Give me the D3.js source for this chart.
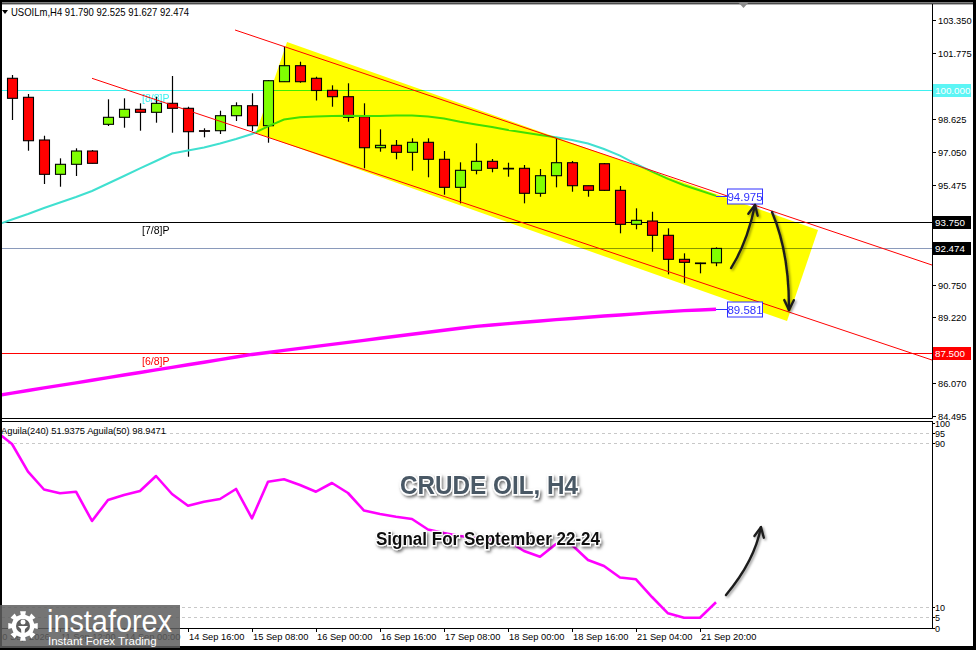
<!DOCTYPE html>
<html><head><meta charset="utf-8">
<script src="https://cdn.jsdelivr.net/npm/d3@7"></script>
<style>
body{margin:0;background:#fff}
svg{display:block}
text{font-family:"Liberation Sans",Arial,sans-serif}
</style>
</head><body>
<svg id="c" width="976" height="650"></svg>
<script>
// ---------------- DATA ----------------
const symbol = "USOILm,H4";
const headerOHLC = ["91.790", "92.525", "91.627", "92.474"];

const opens  = [100.574, 99.669, 97.636, 96.002, 96.479, 97.112, 98.383, 98.717, 99.098, 98.955, 99.383, 99.145, 98.079, 98.079, 98.793, 99.269, 98.317, 100.412, 101.174, 100.574, 100.002, 99.698, 98.745, 97.269, 97.383, 97.050, 97.526, 96.717, 95.383, 96.193, 96.621, 96.288, 96.288, 95.098, 95.936, 96.555, 95.460, 96.507, 95.240, 93.621, 93.779, 93.098, 91.955, 91.764, 91.790];
const highs  = [100.731, 99.826, 97.840, 96.764, 97.240, 97.160, 99.574, 99.621, 99.383, 99.698, 100.683, 99.221, 98.193, 99.031, 99.431, 99.860, 100.493, 102.079, 101.364, 100.650, 100.240, 100.336, 99.383, 98.145, 97.636, 97.717, 97.717, 97.112, 96.574, 97.479, 96.731, 96.555, 96.445, 96.255, 97.764, 96.636, 95.460, 96.540, 95.445, 94.383, 94.221, 93.431, 92.240, 91.793, 92.525];
const lows   = [98.588, 97.126, 95.540, 95.412, 95.921, 96.526, 98.302, 98.221, 98.079, 98.460, 97.983, 96.840, 97.764, 97.921, 98.540, 98.064, 97.507, 100.398, 100.364, 99.517, 99.221, 98.507, 96.288, 97.079, 96.717, 96.174, 95.860, 95.031, 94.621, 96.002, 96.098, 95.888, 94.621, 94.936, 95.383, 95.174, 94.936, 95.207, 93.193, 93.383, 92.317, 91.240, 90.840, 91.288, 91.627];
const closes = [99.621, 97.602, 96.002, 96.479, 97.112, 96.526, 98.717, 99.098, 98.955, 99.383, 99.145, 98.031, 98.070, 98.793, 99.269, 98.317, 100.460, 101.174, 100.412, 99.993, 99.698, 98.717, 97.269, 97.383, 97.050, 97.526, 96.717, 95.383, 96.193, 96.621, 96.288, 96.280, 95.098, 95.936, 96.555, 95.460, 95.240, 95.240, 93.621, 93.812, 93.098, 91.955, 91.812, 91.780, 92.474];

// moving averages, first value belongs to bar index -1
const maFast = [93.588, 93.850, 94.112, 94.398, 94.660, 94.921, 95.207, 95.564, 95.921, 96.288, 96.636, 96.993, 97.136, 97.279, 97.469, 97.683, 97.921, 98.288, 98.612, 98.717, 98.755, 98.779, 98.788, 98.779, 98.779, 98.802, 98.802, 98.755, 98.660, 98.507, 98.374, 98.255, 98.112, 97.993, 97.874, 97.764, 97.636, 97.469, 97.207, 96.893, 96.493, 96.131, 95.788, 95.483, 95.231, 94.975];
const maSlow = [85.464, 85.583, 85.707, 85.831, 85.955, 86.074, 86.198, 86.321, 86.445, 86.564, 86.688, 86.812, 86.936, 87.055, 87.179, 87.302, 87.426, 87.521, 87.621, 87.717, 87.812, 87.907, 88.002, 88.098, 88.198, 88.293, 88.388, 88.483, 88.579, 88.674, 88.760, 88.826, 88.893, 88.960, 89.021, 89.083, 89.140, 89.198, 89.255, 89.307, 89.360, 89.417, 89.464, 89.512, 89.545, 89.581];
const aguila = [95.84, 89.73, 76.19, 67.48, 65.62, 66.41, 52.08, 62.35, 64.79, 66.75, 74.08, 65.28, 59.56, 61.52, 62.84, 67.73, 53.40, 71.30, 72.47, 69.68, 66.41, 70.66, 65.77, 57.21, 55.50, 54.18, 53.06, 47.92, 46.21, 44.74, 43.77, 42.79, 42.30, 37.41, 34.62, 40.83, 40.34, 33.01, 30.07, 24.45, 23.57, 14.91, 6.94, 4.79, 4.79, 12.32];

const priceTicks = [103.350, 101.775, 100.200, 98.625, 97.050, 95.475, 93.900, 92.325, 90.750, 89.220, 87.645, 86.070, 84.495];
const indTicks = [100, 95, 90, 10, 5, 0];
const indDashed = [95, 90, 10, 5];
const timeTickIdx = [-1, 3, 7, 11, 15, 19, 23, 27, 31, 35, 39, 43];
const timeTickLabels = ["10 Sep 2026", "11 Sep 12:00", "14 Sep 00:00", "14 Sep 16:00", "15 Sep 08:00", "16 Sep 00:00", "16 Sep 16:00", "17 Sep 08:00", "18 Sep 00:00", "18 Sep 16:00", "21 Sep 04:00", "21 Sep 20:00"];

const levelValues = [100.000, 93.750, 92.474, 87.500];
const levelNames  = ["[8/8]P", "[7/8]P", "", "[6/8]P"];
const levelColors = ["#3ef0f0", "#000000", "#8a9abb", "#ff0000"];
const levelBoxColors = ["#5cf5f5", "#000000", "#000000", "#ff0000"];

// channel lines: [barIndex, price] endpoints
const channelUpper = [[13.94, 102.874], [57.5, 91.683]];
const channelLower = [[5.0, 100.574], [57.5, 87.160]];
const channelBox = [[17.19, 102.302], [50.375, 93.35], [48.44, 89.017], [15.25, 97.969]];

// arrows: start, control, end  [barIndex, value]
const arrowsMain = [
  [[44.94, 91.54], [45.94, 92.731], [46.44, 94.54]],
  [[47.50, 94.207], [48.59, 92.255], [48.56, 89.54]]
];
const arrowInd = [[44.625, 15.9], [46.41, 32.5], [46.81, 49.1]];

// ---------------- DRAW ----------------
const W = 976, H = 650;
const svg = d3.select("#c");
const defs = svg.append("defs");
const fsh = defs.append("filter").attr("id", "sh").attr("x", "-20%").attr("y", "-40%").attr("width", "140%").attr("height", "180%");
fsh.append("feDropShadow").attr("dx", 1.5).attr("dy", 2).attr("stdDeviation", 1.6).attr("flood-color", "#000").attr("flood-opacity", 0.55);
const fsa = defs.append("filter").attr("id", "sha").attr("x", "-50%").attr("y", "-50%").attr("width", "200%").attr("height", "200%");
fsa.append("feDropShadow").attr("dx", 1.5).attr("dy", 1.5).attr("stdDeviation", 1.2).attr("flood-color", "#000").attr("flood-opacity", 0.4);
defs.append("clipPath").attr("id", "cm").append("rect").attr("x", 2).attr("y", 4).attr("width", 930).attr("height", 414);
defs.append("clipPath").attr("id", "ci").append("rect").attr("x", 2).attr("y", 421).attr("width", 930).attr("height", 207);

svg.append("rect").attr("width", W).attr("height", H).attr("fill", "#fff");

const x = d3.scaleLinear().domain([0, 57.5]).range([12, 932]);
const y = d3.scaleLinear().domain([84.495, 103.35]).range([416, 20]);
const yi = d3.scaleLinear().domain([0, 100]).range([627.5, 423]);

// ---- main panel ----
const gm = svg.append("g").attr("clip-path", "url(#cm)");
const gBase = gm.append("g");

// horizontal levels
levelValues.forEach((v, k) => {
  gBase.append("line").attr("x1", 2).attr("x2", 932)
    .attr("y1", Math.round(y(v)) + 0.5).attr("y2", Math.round(y(v)) + 0.5)
    .attr("stroke", levelColors[k]).attr("stroke-width", 1);
  if (levelNames[k]) {
    gBase.append("text").attr("x", 142).attr("y", Math.round(y(v)) + 12)
      .attr("font-size", 10.5).attr("fill", levelColors[k]).text(levelNames[k]);
  }
});

// candles
const candles = opens.map((o, i) => ({i, o, h: highs[i], l: lows[i], c: closes[i]}));
const cg = gBase.append("g");
cg.selectAll("line.w").data(candles).join("line")
  .attr("x1", d => Math.round(x(d.i)) + 0.5).attr("x2", d => Math.round(x(d.i)) + 0.5)
  .attr("y1", d => y(d.h)).attr("y2", d => y(d.l))
  .attr("stroke", "#000").attr("stroke-width", 1.2);
cg.selectAll("rect.b").data(candles).join("rect")
  .attr("x", d => Math.round(x(d.i)) - 4.5).attr("width", 10)
  .attr("y", d => y(Math.max(d.o, d.c)))
  .attr("height", d => Math.max(0.6, Math.abs(y(d.o) - y(d.c))))
  .attr("fill", d => d.c >= d.o ? "#80ff00" : "#ff0000")
  .attr("stroke", "#000").attr("stroke-width", 1.1);

// moving averages
const lineGen = d3.line().x((d, k) => x(k - 1)).y(d => y(d));
gBase.append("path").attr("d", lineGen(maSlow)).attr("fill", "none").attr("stroke", "#ff00ff").attr("stroke-width", 3.4);
gBase.append("path").attr("d", lineGen(maFast)).attr("fill", "none").attr("stroke", "#40e0d0").attr("stroke-width", 2);

// channel lines
[channelUpper, channelLower].forEach(seg => {
  gBase.append("line")
    .attr("x1", x(seg[0][0])).attr("y1", y(seg[0][1]))
    .attr("x2", x(seg[1][0])).attr("y2", y(seg[1][1]))
    .attr("stroke", "#ff0000").attr("stroke-width", 1);
});

// yellow channel box (multiply blend)
gm.append("polygon")
  .attr("points", channelBox.map(p => x(p[0]) + "," + y(p[1])).join(" "))
  .attr("fill", "#ffff00").style("mix-blend-mode", "multiply");

// value labels of MAs
function valueBox(v, color) {
  const xe = x(44), yv = Math.round(y(v)) + 0.5;
  gm.append("line").attr("x1", xe).attr("x2", xe + 11).attr("y1", yv).attr("y2", yv).attr("stroke", color).attr("stroke-width", 1);
  gm.append("rect").attr("x", xe + 11.5).attr("y", yv - 7.5).attr("width", 35).attr("height", 15)
    .attr("fill", "#fff").attr("stroke", color).attr("stroke-width", 1);
  gm.append("text").attr("x", xe + 29).attr("y", yv + 4.5).attr("text-anchor", "middle")
    .attr("font-size", 11.5).attr("fill", color).text(v.toFixed(3));
}
valueBox(maFast[maFast.length - 1], "#3030ff");
valueBox(maSlow[maSlow.length - 1], "#3030ff");

// arrows
function drawArrow(g, pts, sx, sy) {
  const P = pts.map(p => [sx(p[0]), sy(p[1])]);
  const path = d3.path();
  path.moveTo(P[0][0], P[0][1]);
  path.quadraticCurveTo(P[1][0], P[1][1], P[2][0], P[2][1]);
  const ga = g.append("g").attr("filter", "url(#sha)");
  ga.append("path").attr("d", path.toString()).attr("fill", "none").attr("stroke", "#1e1e1e").attr("stroke-width", 2.4).attr("stroke-linecap", "round");
  const ang = Math.atan2(P[2][1] - P[1][1], P[2][0] - P[1][0]);
  const L = 11, a = 0.45;
  const w1 = [P[2][0] - L * Math.cos(ang - a), P[2][1] - L * Math.sin(ang - a)];
  const w2 = [P[2][0] - L * Math.cos(ang + a), P[2][1] - L * Math.sin(ang + a)];
  ga.append("path").attr("d", `M${w1[0]},${w1[1]}L${P[2][0]},${P[2][1]}L${w2[0]},${w2[1]}`)
    .attr("fill", "none").attr("stroke", "#1e1e1e").attr("stroke-width", 2.4).attr("stroke-linecap", "round").attr("stroke-linejoin", "round");
}
arrowsMain.forEach(a => drawArrow(gm, a, x, y));

// header
svg.append("path").attr("d", "M2,10L8,10L5,14Z").attr("fill", "#000");
svg.append("text").attr("x", 11).attr("y", 16).attr("font-size", 10.3).attr("fill", "#000")
  .attr("textLength", 178).attr("lengthAdjust", "spacingAndGlyphs")
  .text(symbol + "  " + headerOHLC.join(" "));

// ---- indicator panel ----
const gi = svg.append("g").attr("clip-path", "url(#ci)");
indDashed.forEach(v => {
  gi.append("line").attr("x1", 2).attr("x2", 932).attr("y1", Math.round(yi(v)) + 0.5).attr("y2", Math.round(yi(v)) + 0.5)
    .attr("stroke", "#c8c8c8").attr("stroke-dasharray", "3,3");
});
const lineI = d3.line().x((d, k) => x(k - 1)).y(d => yi(d));
gi.append("path").attr("d", lineI(aguila)).attr("fill", "none").attr("stroke", "#ff00ff").attr("stroke-width", 2.6).attr("stroke-linejoin", "round");
svg.append("text").attr("x", 1).attr("y", 434).attr("font-size", 9.6).attr("fill", "#000")
  .attr("textLength", 165).attr("lengthAdjust", "spacingAndGlyphs")
  .text("Aguila(240) 51.9375  Aguila(50) 98.9471");

// titles
svg.append("text").attr("x", 489).attr("y", 494).attr("text-anchor", "middle")
  .attr("font-size", 26).attr("font-weight", "bold").attr("fill", "#4a5865")
  .attr("stroke", "#fff").attr("stroke-width", 3).attr("paint-order", "stroke")
  .attr("textLength", 178).attr("lengthAdjust", "spacingAndGlyphs")
  .attr("filter", "url(#sh)").text("CRUDE OIL, H4");
svg.append("text").attr("x", 488).attr("y", 545).attr("text-anchor", "middle")
  .attr("font-size", 18).attr("font-weight", "bold").attr("fill", "#111")
  .attr("stroke", "#fff").attr("stroke-width", 2.5).attr("paint-order", "stroke")
  .attr("textLength", 224).attr("lengthAdjust", "spacingAndGlyphs")
  .attr("filter", "url(#sh)").text("Signal For September 22-24");

drawArrow(svg, arrowInd, x, yi);

// ---- frames & axes ----
const fr = svg.append("g");
fr.append("line").attr("x1", 2).attr("x2", 932.5).attr("y1", 418.5).attr("y2", 418.5).attr("stroke", "#000");
fr.append("line").attr("x1", 2).attr("x2", 932.5).attr("y1", 421.5).attr("y2", 421.5).attr("stroke", "#000");
fr.append("line").attr("x1", 2).attr("x2", 932.5).attr("y1", 628.5).attr("y2", 628.5).attr("stroke", "#000");
fr.append("line").attr("x1", 932.5).attr("x2", 932.5).attr("y1", 4).attr("y2", 418.5).attr("stroke", "#000");
fr.append("line").attr("x1", 932.5).attr("x2", 932.5).attr("y1", 421).attr("y2", 628.5).attr("stroke", "#000");

// price axis
const pa = svg.append("g");
priceTicks.forEach(v => {
  const yy = Math.round(y(v)) + 0.5;
  pa.append("line").attr("x1", 932).attr("x2", 936).attr("y1", yy).attr("y2", yy).attr("stroke", "#000");
  const covered = levelValues.some(lv => Math.abs(y(lv) - y(v)) < 12);
  if (!covered) {
    pa.append("text").attr("x", 938).attr("y", yy + 3.5).attr("font-size", 9.3).attr("fill", "#000").text(v.toFixed(3));
  }
});
levelValues.forEach((v, k) => {
  const yy = Math.round(y(v)) + 0.5;
  pa.append("rect").attr("x", 933).attr("y", yy - 6.5).attr("width", 38).attr("height", 13).attr("fill", levelBoxColors[k]);
  pa.append("text").attr("x", 935).attr("y", yy + 3.5).attr("font-size", 9.8).attr("fill", "#fff").text(v.toFixed(3));
});

// indicator axis
indTicks.forEach(v => {
  const yy = Math.round(yi(v)) + 0.5;
  pa.append("line").attr("x1", 932).attr("x2", 935).attr("y1", yy).attr("y2", yy).attr("stroke", "#000");
  pa.append("text").attr("x", 935).attr("y", yy + 3.5).attr("font-size", 9).attr("fill", "#000").text(v);
});

// time axis
timeTickIdx.forEach((idx, k) => {
  const xx = Math.round(x(idx)) + 0.5;
  pa.append("line").attr("x1", xx).attr("x2", xx).attr("y1", 628).attr("y2", 632).attr("stroke", "#000");
  pa.append("text").attr("x", xx + 0.5).attr("y", 640).attr("font-size", 9.3).attr("fill", "#000").text(timeTickLabels[k]);
});

// outer frame
fr.append("rect").attr("x", 0).attr("y", 0).attr("width", W).attr("height", 2.5).attr("fill", "#000");
fr.append("line").attr("x1", 0).attr("x2", W).attr("y1", 3.8).attr("y2", 3.8).attr("stroke", "#000").attr("stroke-width", 1);
fr.append("rect").attr("x", 0).attr("y", 0).attr("width", 2).attr("height", H).attr("fill", "#000");
fr.append("rect").attr("x", 973).attr("y", 0).attr("width", 3).attr("height", H).attr("fill", "#000");
fr.append("rect").attr("x", 0).attr("y", 646).attr("width", W).attr("height", 4).attr("fill", "#000");
// chart shift marker
fr.append("path").attr("d", "M738,2L749,2L743.5,8Z").attr("fill", "#8c8c8c");

// instaforex logo
const lg = svg.append("g");
lg.append("rect").attr("x", 0).attr("y", 605).attr("width", 180).attr("height", 43).attr("fill", "#5e5e5e").attr("opacity", 0.86);
const gearPts = [];
for (let k = 0; k < 16; k++) {
  const r = (k % 2 === 0) ? 15 : 11.5;
  const a0 = k * Math.PI / 8 - Math.PI / 16, a1 = k * Math.PI / 8 + Math.PI / 16;
  gearPts.push([23 + r * Math.cos(a0), 626 + r * Math.sin(a0)]);
  gearPts.push([23 + r * Math.cos(a1), 626 + r * Math.sin(a1)]);
}
lg.append("path").attr("d", "M" + gearPts.map(p => p.join(",")).join("L") + "Z").attr("fill", "#fff");
lg.append("circle").attr("cx", 23).attr("cy", 626).attr("r", 7).attr("fill", "#5e5e5e");
lg.append("circle").attr("cx", 23).attr("cy", 622).attr("r", 2.5).attr("fill", "#fff");
lg.append("path").attr("d", "M18,626L28,626L25,629L24,640L22,640L21,629Z").attr("fill", "#fff");
lg.append("text").attr("x", 47).attr("y", 632).attr("font-size", 31).attr("fill", "#fff")
  .attr("textLength", 125).attr("lengthAdjust", "spacingAndGlyphs").text("instaforex");
lg.append("text").attr("x", 48).attr("y", 645).attr("font-size", 11.5).attr("fill", "#fff").text("Instant Forex Trading");
</script>
</body></html>
